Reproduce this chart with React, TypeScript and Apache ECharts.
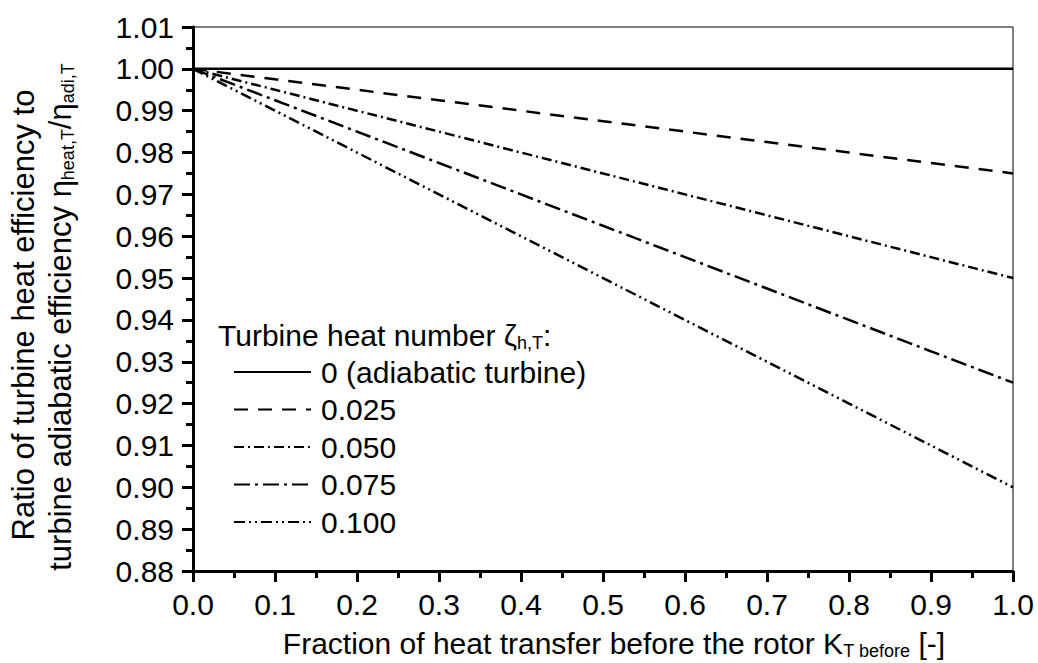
import React, { useEffect, useRef } from "react";
import * as echarts from "echarts";

const xValues = [0, 0.1, 0.2, 0.3, 0.4, 0.5, 0.6, 0.7, 0.8, 0.9, 1.0];
const seriesNames = ["0 (adiabatic turbine)", "0.025", "0.050", "0.075", "0.100"];
const ratio0 = [1.0, 1.0, 1.0, 1.0, 1.0, 1.0, 1.0, 1.0, 1.0, 1.0, 1.0];
const ratio025 = [1.0, 0.9975, 0.995, 0.9925, 0.99, 0.9875, 0.985, 0.9825, 0.98, 0.9775, 0.975];
const ratio050 = [1.0, 0.995, 0.99, 0.985, 0.98, 0.975, 0.97, 0.965, 0.96, 0.955, 0.95];
const ratio075 = [1.0, 0.9925, 0.985, 0.9775, 0.97, 0.9625, 0.955, 0.9475, 0.94, 0.9325, 0.925];
const ratio100 = [1.0, 0.99, 0.98, 0.97, 0.96, 0.95, 0.94, 0.93, 0.92, 0.91, 0.9];
const allSeries = [ratio0, ratio025, ratio050, ratio075, ratio100];
const dashes: (string | number[])[] = ["solid", [14, 10], [10, 4, 2, 4], [16, 5, 3, 5], [11, 4, 2, 4, 2, 4]];

const FONT = '"Liberation Sans", Arial, sans-serif';
const FS = 30;

export default function App() {
  const ref = useRef<HTMLDivElement>(null);
  useEffect(() => {
    if (!ref.current) return;
    const chart = echarts.init(ref.current, undefined, { renderer: "svg" });
    const subStyle = { fontSize: 18, fontFamily: FONT, fill: "#000", color: "#000", lineHeight: 10, verticalAlign: "top", padding: [14, 0, 0, 0] };
    chart.setOption({
      animation: false,
      backgroundColor: "#fff",
      grid: { left: 193, top: 27, right: 25, bottom: 92, show: true, borderColor: "#000", borderWidth: 1, containLabel: false },
      xAxis: {
        type: "value", min: 0, max: 1, interval: 0.1,
        axisLine: { show: true, onZero: false, lineStyle: { color: "#000", width: 3 } },
        axisTick: { show: true, inside: false, length: 11, lineStyle: { color: "#000", width: 3 } },
        minorTick: { show: true, splitNumber: 2, length: 7, lineStyle: { color: "#000", width: 3 } },
        splitLine: { show: false },
        axisLabel: { color: "#000", fontSize: FS, fontFamily: FONT, margin: 18, formatter: (v: number) => v.toFixed(1) },
      },
      yAxis: {
        type: "value", min: 0.88, max: 1.01, interval: 0.01,
        axisLine: { show: true, onZero: false, lineStyle: { color: "#000", width: 3 } },
        axisTick: { show: true, inside: false, length: 11, lineStyle: { color: "#000", width: 3 } },
        minorTick: { show: true, splitNumber: 2, length: 7, lineStyle: { color: "#000", width: 3 } },
        splitLine: { show: false },
        axisLabel: { color: "#000", fontSize: FS, fontFamily: FONT, margin: 19, formatter: (v: number) => v.toFixed(2) },
      },
      legend: {
        data: seriesNames,
        orient: "vertical",
        left: 233,
        top: 357,
        padding: 0,
        itemWidth: 77,
        itemHeight: 2,
        itemGap: 7.5,
        selectedMode: false,
        itemStyle: { opacity: 0 },
        textStyle: { color: "#000", fontSize: FS, fontFamily: FONT, lineHeight: 30, padding: [0, 0, 0, 5] },
      },
      graphic: [
        {
          type: "text", x: 218, y: 335,
          style: {
            text: "Turbine heat number ζ{sub|h,T}:",
            font: `${FS}px ${FONT}`, fontSize: FS, fontFamily: FONT, fill: "#000",
            align: "left", textAlign: "left", verticalAlign: "middle", textVerticalAlign: "middle", lineHeight: 30,
            rich: { sub: subStyle },
          },
        },
        {
          type: "text", x: 614, y: 643,
          style: {
            text: "Fraction of heat transfer before the rotor K{sub|T before} [-]",
            font: `${FS}px ${FONT}`, fontSize: FS, fontFamily: FONT, fill: "#000",
            align: "center", textAlign: "center", verticalAlign: "middle", textVerticalAlign: "middle", lineHeight: 30,
            rich: { sub: subStyle },
          },
        },
        {
          type: "text", x: 23, y: 315, rotation: Math.PI / 2,
          style: {
            text: "Ratio of turbine heat efficiency to",
            font: `31px ${FONT}`, fontSize: 31, fontFamily: FONT, fill: "#000",
            align: "center", textAlign: "center", verticalAlign: "middle", textVerticalAlign: "middle", lineHeight: 30,
          },
        },
        {
          type: "text", x: 60, y: 317, rotation: Math.PI / 2,
          style: {
            text: "turbine adiabatic efficiency η{sub|heat,T}/η{sub|adi,T}",
            font: `31px ${FONT}`, fontSize: 31, fontFamily: FONT, fill: "#000",
            align: "center", textAlign: "center", verticalAlign: "middle", textVerticalAlign: "middle", lineHeight: 30,
            rich: { sub: subStyle },
          },
        },
      ],
      series: allSeries.map((vals, i) => ({
        name: seriesNames[i],
        type: "line",
        symbol: "none",
        data: vals.map((v, j) => [xValues[j], v]),
        lineStyle: { color: "#000", width: 2.5, type: dashes[i] },
        itemStyle: { color: "#000" },
      })),
    });
    return () => chart.dispose();
  }, []);
  return <div ref={ref} style={{ position: "fixed", left: 0, top: 0, width: 1038, height: 663, background: "#fff" }} />;
}
